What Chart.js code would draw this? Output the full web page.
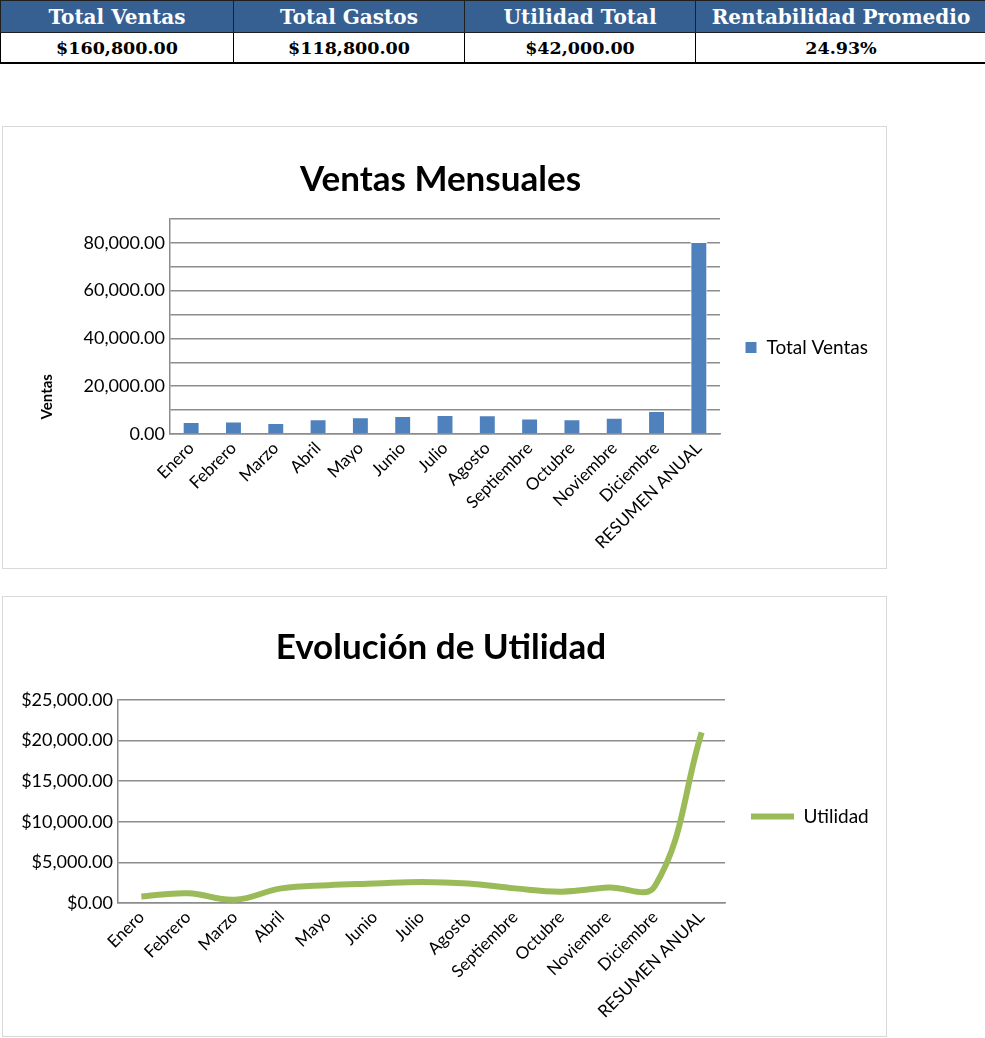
<!DOCTYPE html>
<html><head><meta charset="utf-8">
<script src="https://cdn.jsdelivr.net/npm/chart.js@4.4.1/dist/chart.umd.min.js"></script>
<style>
html,body{margin:0;padding:0;background:#fff;width:985px;height:1038px;overflow:hidden;}
#summary{position:absolute;left:0;top:0;border-collapse:collapse;table-layout:fixed;width:986px;}
#summary th{background:#366092;color:#fff;font:bold 20px "DejaVu Serif";height:31px;border:1px solid #1f1f1f;padding:0;}
#summary td{font:bold 17.5px "DejaVu Serif";height:29px;border:1px solid #000;border-bottom:2px solid #000;text-align:center;padding:0;}
.box{position:absolute;left:2px;width:883px;border:1px solid #d9d9d9;background:#fff;}
.box canvas{display:block;}
</style></head>
<body>
<table id="summary"><colgroup><col style="width:233px"><col style="width:231px"><col style="width:231px"><col style="width:291px"></colgroup><thead><tr id="hdr"></tr></thead><tbody><tr id="vals"></tr></tbody></table>
<div class="box" style="top:126px;height:441px;"><canvas id="c1" width="883" height="441"></canvas></div>
<div class="box" style="top:596px;height:439px;"><canvas id="c2" width="883" height="439"></canvas></div>
<script>
// ---- data ----
const summaryHeaders = ['Total Ventas', 'Total Gastos', 'Utilidad Total', 'Rentabilidad Promedio'];
const summaryValues = ['$160,800.00', '$118,800.00', '$42,000.00', '24.93%'];
const categories = ['Enero','Febrero','Marzo','Abril','Mayo','Junio','Julio','Agosto','Septiembre','Octubre','Noviembre','Diciembre','RESUMEN ANUAL'];
const ventas = [5000, 5200, 4600, 6200, 7000, 7500, 8000, 7800, 6500, 6200, 6800, 9600, 80400];
const utilidad = [800, 1200, 400, 1800, 2200, 2400, 2600, 2400, 1800, 1400, 1900, 2100, 21000];
const ventasAxis = {min: 0, max: 90000, step: 10000, labelEvery: 20000};
const utilidadAxis = {min: 0, max: 25000, step: 5000};

// ---- table ----
document.getElementById('hdr').innerHTML = summaryHeaders.map(h => '<th>' + h + '</th>').join('');
document.getElementById('vals').innerHTML = summaryValues.map(v => '<td>' + v + '</td>').join('');

// ---- charts ----
const FONT = 'Lato, "Open Sans", sans-serif';
Chart.defaults.font.family = FONT;
Chart.defaults.color = '#000';
const GRID = '#8c8c8c';
const numFmt = v => Number(v).toLocaleString('en-US', {minimumFractionDigits: 2, maximumFractionDigits: 2});
const mctx = document.createElement('canvas').getContext('2d');
function textW(t, size) { mctx.font = size + 'px ' + FONT; return mctx.measureText(t).width; }

// bar chart layout targets (canvas px)
const c1 = {w: 883, plotLeft: 167, plotRight: 717, xH: 134, legPad: 25, box: 12, lf: 19};
const padR1 = Math.max(0, c1.w - c1.plotRight - (c1.legPad + c1.box + c1.lf / 2 + textW('Total Ventas', c1.lf) + 10));

new Chart(document.getElementById('c1'), {
  type: 'bar',
  data: {
    labels: categories,
    datasets: [{
      label: 'Total Ventas', data: ventas,
      backgroundColor: '#4F81BD', borderColor: '#ffffff', borderWidth: 1,
      barPercentage: 0.4, categoryPercentage: 1
    }]
  },
  options: {
    responsive: false, animation: false,
    layout: {padding: {left: 0, right: padR1, top: 0, bottom: 0}},
    plugins: {
      title: {display: true, text: 'Ventas Mensuales', color: '#000', font: {size: 35, weight: 'bold'}, padding: {top: 32, bottom: 18}},
      legend: {position: 'right', labels: {boxWidth: c1.box, boxHeight: c1.box, padding: c1.legPad, font: {size: c1.lf}, color: '#000'}},
      tooltip: {enabled: false}
    },
    scales: {
      x: {
        grid: {display: false, drawTicks: false},
        border: {display: true, color: GRID, width: 1.5},
        ticks: {autoSkip: false, maxRotation: 45, minRotation: 45, font: {size: 17}, color: '#000', padding: 4},
        afterFit: s => { s.height = c1.xH; }
      },
      y: {
        min: ventasAxis.min, max: ventasAxis.max,
        ticks: {stepSize: ventasAxis.step, autoSkip: false, font: {size: 18}, color: '#000', padding: 5,
          callback: v => (v % ventasAxis.labelEvery === 0 ? numFmt(v) : '')},
        grid: {color: GRID, lineWidth: 1.5, drawTicks: false},
        border: {display: true, color: GRID, width: 1.5},
        title: {display: true, text: '    Ventas', align: 'start', color: '#000', font: {size: 15, weight: 'bold'}, padding: {top: 35, bottom: 0}},
        afterFit: s => { s.width = c1.plotLeft; }
      }
    }
  }
});

// line chart layout targets
const c2 = {w: 883, plotLeft: 115, plotRight: 722, xH: 133, legPad: 26, box: 43, lf: 19};
const padR2 = Math.max(0, c2.w - c2.plotRight - (c2.legPad + c2.box + c2.lf / 2 + textW('Utilidad', c2.lf) + 10));

new Chart(document.getElementById('c2'), {
  type: 'line',
  data: {
    labels: categories,
    datasets: [{
      label: 'Utilidad', data: utilidad,
      borderColor: '#9BBB59', backgroundColor: '#9BBB59', borderWidth: 6,
      pointRadius: 0, pointHoverRadius: 0, tension: 0.4, fill: false
    }]
  },
  options: {
    responsive: false, animation: false,
    layout: {padding: {left: 0, right: padR2, top: 0, bottom: 0}},
    plugins: {
      title: {display: true, text: 'Evolución de Utilidad', color: '#000', font: {size: 35, weight: 'bold'}, padding: {top: 30, bottom: 31}},
      legend: {position: 'right', labels: {boxWidth: c2.box, boxHeight: 6, padding: c2.legPad, font: {size: c2.lf}, color: '#000',
        generateLabels: ch => Chart.defaults.plugins.legend.labels.generateLabels(ch).map(l => Object.assign(l, {lineWidth: 0}))}},
      tooltip: {enabled: false}
    },
    scales: {
      x: {
        offset: true,
        grid: {display: false, drawTicks: false},
        border: {display: true, color: GRID, width: 1.5},
        ticks: {autoSkip: false, maxRotation: 45, minRotation: 45, font: {size: 17}, color: '#000', padding: 4},
        afterFit: s => { s.height = c2.xH; }
      },
      y: {
        min: utilidadAxis.min, max: utilidadAxis.max,
        ticks: {stepSize: utilidadAxis.step, autoSkip: false, font: {size: 18}, color: '#000', padding: 5, callback: v => '$' + numFmt(v)},
        grid: {color: GRID, lineWidth: 1.5, drawTicks: false},
        border: {display: true, color: GRID, width: 1.5},
        afterFit: s => { s.width = c2.plotLeft; }
      }
    }
  }
});
</script>
</body></html>
